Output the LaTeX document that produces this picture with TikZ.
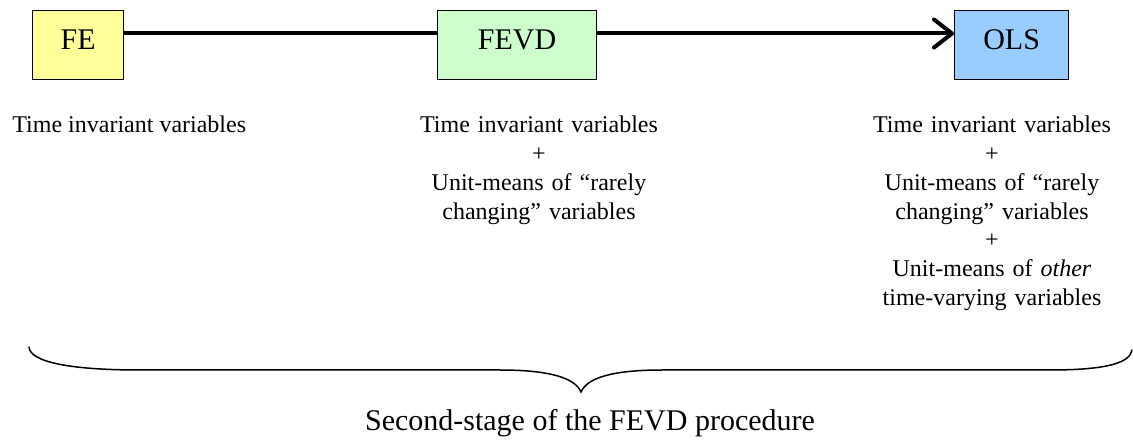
\documentclass[tikz,border=0pt]{standalone}
\usepackage{fontspec}
\setmainfont{Liberation Serif}
\usetikzlibrary{arrows.meta,backgrounds}
\definecolor{feyellow}{HTML}{FFFF99}
\definecolor{fevdgreen}{HTML}{CCFFCC}
\definecolor{olsblue}{HTML}{99CCFF}
\begin{document}
\begin{tikzpicture}[x=0.5pt,y=-0.5pt,
  stagebox/.style={draw=black,line width=0.6pt,rectangle,anchor=north west,
    inner xsep=0pt,inner ysep=0pt,text height=19.5pt,text depth=15pt,
    font=\fontsize{15}{18}\selectfont},
  bodytext/.style={inner sep=0pt,font=\fontsize{12}{14.35}\selectfont},
  blocktext/.style={bodytext,text width=130pt,align=center,anchor=base},
  flow/.style={line width=2pt,-{Straight Barb[length=9pt,width=14pt,round]}},
  bracepath/.style={line width=0.75pt,line cap=round}]
\useasboundingbox (0,0) rectangle (1133,442);
\coordinate (ly) at (0,33.5);
% stage boxes
\node[stagebox,fill=feyellow,minimum width=45.5pt] (fe) at (32,10) {FE};
\node[stagebox,fill=fevdgreen,minimum width=79.5pt] (fevd) at (437,10) {FEVD};
\node[stagebox,fill=olsblue,minimum width=57pt] (ols) at (954,10) {OLS};
% connector behind the boxes
\begin{scope}[on background layer]
  \draw[flow] (fe.east |- ly) -- (ols.west |- ly);
\end{scope}
% descriptions
\node[bodytext,anchor=base west] (t1) at (12,133) {Time invariant variables};
\node[blocktext] (t2) at (539,133) {Time invariant variables\\+\\Unit-means of “rarely\\changing” variables};
\node[blocktext] (t3) at (992,133) {Time invariant variables\\+\\Unit-means of “rarely\\changing” variables\\+\\Unit-means of \textit{other}\\time-varying variables};
% brace
\draw[bracepath] (29,347) .. controls (30,362) and (70,370) .. (140,370) -- (500,370)
  .. controls (550,370) and (575,378) .. (581,392)
  .. controls (587,378) and (612,370) .. (662,370) -- (1050,370)
  .. controls (1110,370) and (1130,362) .. (1132,350);
\node[inner sep=0pt,anchor=base,font=\fontsize{15}{18}\selectfont] (stage) at (590,430) {Second-stage of the FEVD procedure};
\end{tikzpicture}
\end{document}
